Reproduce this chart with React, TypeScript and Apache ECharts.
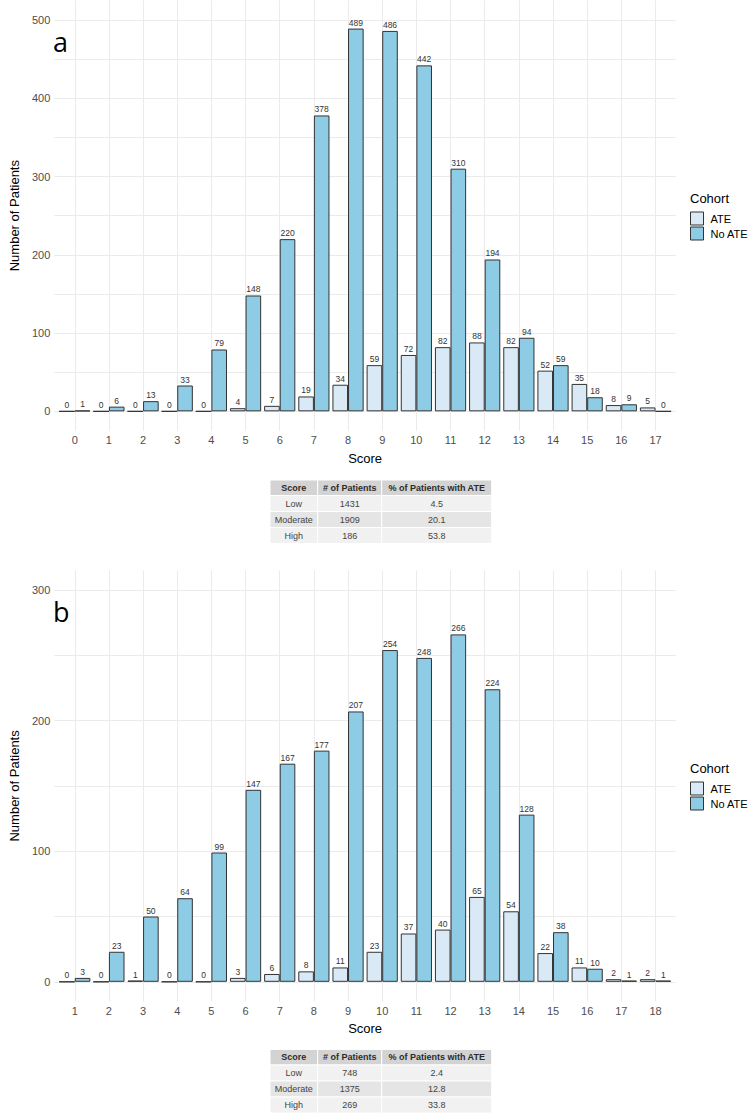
import React, { useEffect, useRef } from "react";
import * as echarts from "echarts";

// ---------- Data ----------
const scoresA = [0, 1, 2, 3, 4, 5, 6, 7, 8, 9, 10, 11, 12, 13, 14, 15, 16, 17];
const ateA = [0, 0, 0, 0, 0, 4, 7, 19, 34, 59, 72, 82, 88, 82, 52, 35, 8, 5];
const noAteA = [1, 6, 13, 33, 79, 148, 220, 378, 489, 486, 442, 310, 194, 94, 59, 18, 9, 0];

const scoresB = [1, 2, 3, 4, 5, 6, 7, 8, 9, 10, 11, 12, 13, 14, 15, 16, 17, 18];
const ateB = [0, 0, 1, 0, 0, 3, 6, 8, 11, 23, 37, 40, 65, 54, 22, 11, 2, 2];
const noAteB = [3, 23, 50, 64, 99, 147, 167, 177, 207, 254, 248, 266, 224, 128, 38, 10, 1, 1];

const yLabelsA = [0, 100, 200, 300, 400, 500];
const yGridA = [0, 50, 100, 150, 200, 250, 300, 350, 400, 450, 500];
const yLabelsB = [0, 100, 200, 300];
const yGridB = [0, 50, 100, 150, 200, 250, 300];

const seriesNames = ["ATE", "No ATE"];
const tableHeader = ["Score", "# of Patients", "% of Patients with ATE"];
const tableScores = ["Low", "Moderate", "High"];
const tablePatientsA = ["1431", "1909", "186"];
const tablePctA = ["4.5", "20.1", "53.8"];
const tablePatientsB = ["748", "1375", "269"];
const tablePctB = ["2.4", "12.8", "33.8"];

// ---------- Styles ----------
const FONT = "Liberation Sans, Arial, sans-serif";
const ATE_COLOR = "#d9eaf6";
const NOATE_COLOR = "#8ecbe4";
const BORDER = "#333333";
const GRID_COLOR = "#ebebeb";

function tableGraphics(top: number, patients: string[], pct: string[]) {
  const colX = [270, 317.7, 381.7, 491.7];
  const rowH = [15.5, 16, 16, 16];
  const rowColors = ["#d3d3d3", "#f1f1f1", "#e5e5e5", "#f1f1f1"];
  const rows = [
    tableHeader,
    ...tableScores.map((s, i) => [s, patients[i], pct[i]]),
  ];
  const els: any[] = [];
  let y = top;
  rows.forEach((row, r) => {
    for (let c = 0; c < 3; c++) {
      els.push({
        type: "rect",
        shape: { x: colX[c], y, width: colX[c + 1] - colX[c], height: rowH[r] },
        style: { fill: rowColors[r], stroke: "#ffffff", lineWidth: 1 },
      });
      els.push({
        type: "text",
        style: {
          x: (colX[c] + colX[c + 1]) / 2,
          y: y + rowH[r] / 2,
          text: row[c],
          fontSize: 9,
          fontFamily: FONT,
          fontWeight: r === 0 ? "bold" : "normal",
          fill: r === 0 ? "#2b2b2b" : "#444444",
          align: "center",
          verticalAlign: "middle",
        },
      });
    }
    y += rowH[r];
  });
  return els;
}

function barSeries(name: string, xs: number[], vals: number[], idx: number, color: string) {
  return {
    type: "bar",
    name,
    xAxisIndex: idx,
    yAxisIndex: idx,
    data: xs.map((x, i) => [x, vals[i]]),
    barWidth: 15.6,
    barGap: "0%",
    itemStyle: { color, borderColor: BORDER, borderWidth: 1 },
    label: {
      show: true,
      position: "top",
      distance: 1.5,
      fontSize: 8.5,
      fontFamily: FONT,
      color: "#333333",
      formatter: (p: any) => String(p.value[1]),
    },
  };
}

function xAxisCfg(idx: number, xs: number[]) {
  return {
    type: "value",
    gridIndex: idx,
    min: xs[0] - 0.6,
    max: xs[xs.length - 1] + 0.6,
    axisLine: { show: false },
    axisTick: { show: false, customValues: xs },
    axisLabel: { customValues: xs, fontSize: 11, color: "#4d4d4d", margin: 4, fontFamily: FONT },
    splitLine: { show: true, lineStyle: { color: GRID_COLOR, width: 1 } },
    name: "Score",
    nameLocation: "middle",
    nameGap: 21,
    nameTextStyle: { fontSize: 13, color: "#000", fontFamily: FONT },
  };
}

function yAxisCfg(idx: number, min: number, max: number, labels: number[], grid: number[]) {
  return {
    type: "value",
    gridIndex: idx,
    min,
    max,
    axisLine: { show: false },
    axisTick: { show: false, customValues: grid },
    axisLabel: { customValues: labels, fontSize: 11, color: "#4d4d4d", margin: 4, fontFamily: FONT },
    splitLine: { show: true, lineStyle: { color: GRID_COLOR, width: 1 } },
    name: "Number of Patients",
    nameLocation: "middle",
    nameGap: 31,
    nameTextStyle: { fontSize: 13, color: "#000", fontFamily: FONT },
  };
}

function legendCfg(top: number) {
  return {
    data: seriesNames,
    orient: "vertical",
    left: 690,
    top,
    padding: 0,
    itemWidth: 13,
    itemHeight: 13,
    itemGap: 1,
    icon: "rect",
    selectedMode: false,
    itemStyle: { borderColor: BORDER, borderWidth: 1 },
    textStyle: { fontSize: 11, color: "#000", lineHeight: 13, fontFamily: FONT, padding: [0, 0, 0, 2] },
  };
}

export default function App() {
  const ref = useRef<HTMLDivElement>(null);
  useEffect(() => {
    if (!ref.current) return;
    const chart = echarts.init(ref.current, null, { renderer: "svg" });
    const option: any = {
      animation: false,
      backgroundColor: "#ffffff",
      textStyle: { fontFamily: FONT },
      grid: [
        { left: 46, top: 0.4, width: 630, height: 430.5 },
        { left: 46, top: 570.4, width: 630, height: 431 },
      ],
      xAxis: [xAxisCfg(0, scoresA), xAxisCfg(1, scoresB)],
      yAxis: [
        yAxisCfg(0, -25, 525, yLabelsA, yGridA),
        yAxisCfg(1, -15, 315, yLabelsB, yGridB),
      ],
      legend: [legendCfg(211.5), legendCfg(781.5)],
      series: [
        barSeries(seriesNames[0], scoresA, ateA, 0, ATE_COLOR),
        barSeries(seriesNames[1], scoresA, noAteA, 0, NOATE_COLOR),
        barSeries(seriesNames[0], scoresB, ateB, 1, ATE_COLOR),
        barSeries(seriesNames[1], scoresB, noAteB, 1, NOATE_COLOR),
      ],
      graphic: [
        {
          type: "text",
          style: { x: 53, y: 41.5, text: "a", fontSize: 27, fontFamily: "Open Sans, sans-serif", fill: "#000", verticalAlign: "middle" },
        },
        {
          type: "text",
          style: { x: 53, y: 611, text: "b", fontSize: 27, fontFamily: "Open Sans, sans-serif", fill: "#000", verticalAlign: "middle" },
        },
        {
          type: "text",
          style: { x: 690, y: 198, text: "Cohort", fontSize: 13, fontFamily: FONT, fill: "#000", verticalAlign: "middle" },
        },
        {
          type: "text",
          style: { x: 690, y: 768.3, text: "Cohort", fontSize: 13, fontFamily: FONT, fill: "#000", verticalAlign: "middle" },
        },
        ...tableGraphics(480, tablePatientsA, tablePctA),
        ...tableGraphics(1049.5, tablePatientsB, tablePctB),
      ],
    };
    chart.setOption(option);
    return () => chart.dispose();
  }, []);
  return (
    <div
      ref={ref}
      style={{ position: "absolute", left: 0, top: 0, width: 749, height: 1115, background: "#fff" }}
    />
  );
}
